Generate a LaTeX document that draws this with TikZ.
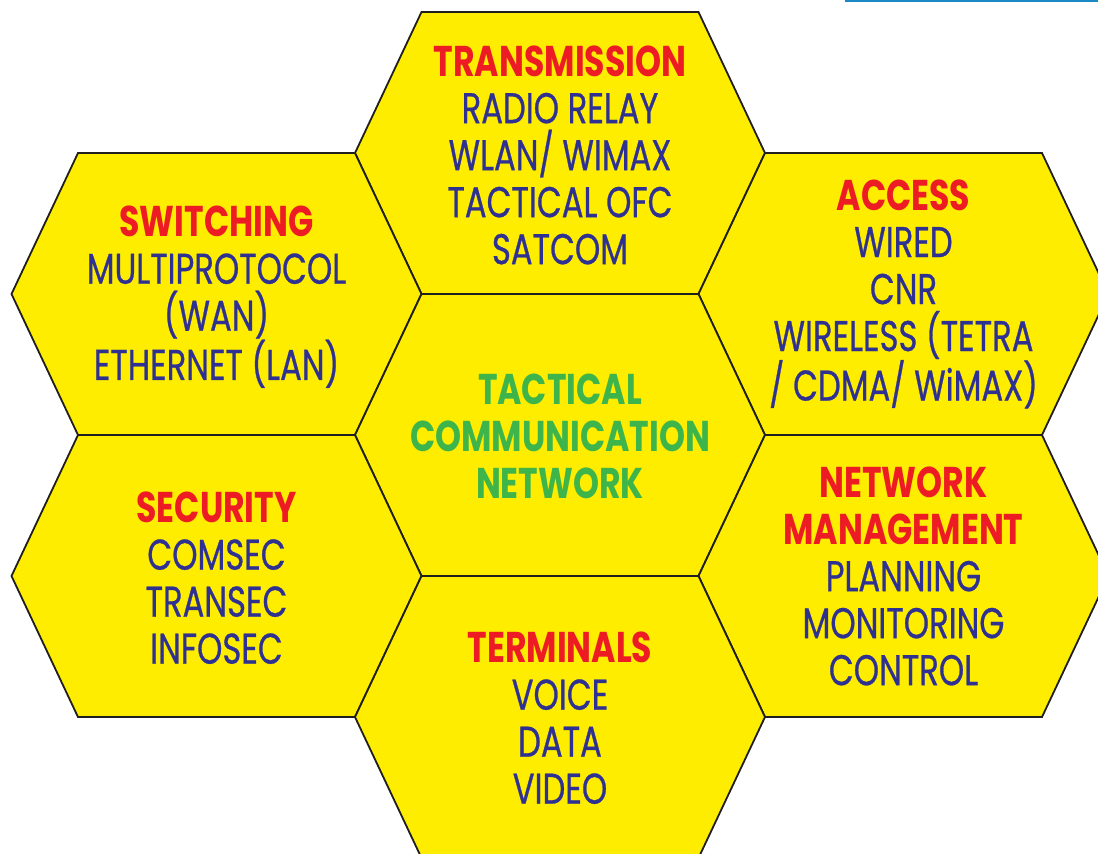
\documentclass[tikz,border=0pt]{standalone}
\usepackage{fontspec}
\setmainfont{Poppins}[
  UprightFeatures={FakeStretch=0.75,FakeBold=0.6},
  BoldFeatures={FakeStretch=0.77}]
\definecolor{hexyellow}{HTML}{FFED00}
\definecolor{headred}{HTML}{ED1C24}
\definecolor{itemblue}{HTML}{2E3192}
\definecolor{coregreen}{HTML}{3DB54A}
\definecolor{rulecyan}{HTML}{1B8AC4}
\begin{document}
\begin{tikzpicture}[x=1pt,y=-1pt,
  cell/.style={fill=hexyellow,draw=black!88,line width=1.8pt,line join=miter},
  celltext/.style={align=center,text=itemblue,inner sep=0pt,
    font=\fontsize{43}{47}\selectfont}]
  \newcommand\hexw{205}
  \newcommand\hexe{138.5}
  \newcommand\hexh{141}
  \newcommand\headline[1]{{\color{headred}\bfseries #1}}
  \useasboundingbox (0,0) rectangle (1098,854);
  \clip (0,0) rectangle (1098,854);

  \foreach \cx/\cy in {560/153,216.5/294,903.5/294,560/435,216.5/576,903.5/576,560/717}
    \draw[cell,shift={(\cx,\cy)}] (-\hexe,-\hexh) -- (\hexe,-\hexh) -- (\hexw,0)
      -- (\hexe,\hexh) -- (-\hexe,\hexh) -- (-\hexw,0) -- cycle;

  \draw[rulecyan,line width=2pt] (845,1) -- (1098,1);

  \node[celltext] (transmission) at (560,155)
    {\headline{TRANSMISSION}\\RADIO RELAY\\WLAN/ WIMAX\\TACTICAL OFC\\SATCOM};
  \node[celltext] (switching) at (216.5,297)
    {\headline{SWITCHING}\\MULTIPROTOCOL\\(WAN)\\ETHERNET (LAN)};
  \node[celltext] (access) at (903.5,294)
    {\headline{ACCESS}\\WIRED\\CNR\\WIRELESS (TETRA\\/ CDMA/ WiMAX)};
  \node[celltext,text=coregreen,font=\fontsize{43}{47}\selectfont\bfseries] (core) at (560,436)
    {TACTICAL\\COMMUNICATION\\NETWORK};
  \node[celltext] (security) at (216.5,578)
    {\headline{SECURITY}\\COMSEC\\TRANSEC\\INFOSEC};
  \node[celltext] (netmgmt) at (903.5,576)
    {\headline{NETWORK}\\\headline{MANAGEMENT}\\PLANNING\\MONITORING\\CONTROL};
  \node[celltext] (terminals) at (560,718)
    {\headline{TERMINALS}\\VOICE\\DATA\\VIDEO};
\end{tikzpicture}
\end{document}
